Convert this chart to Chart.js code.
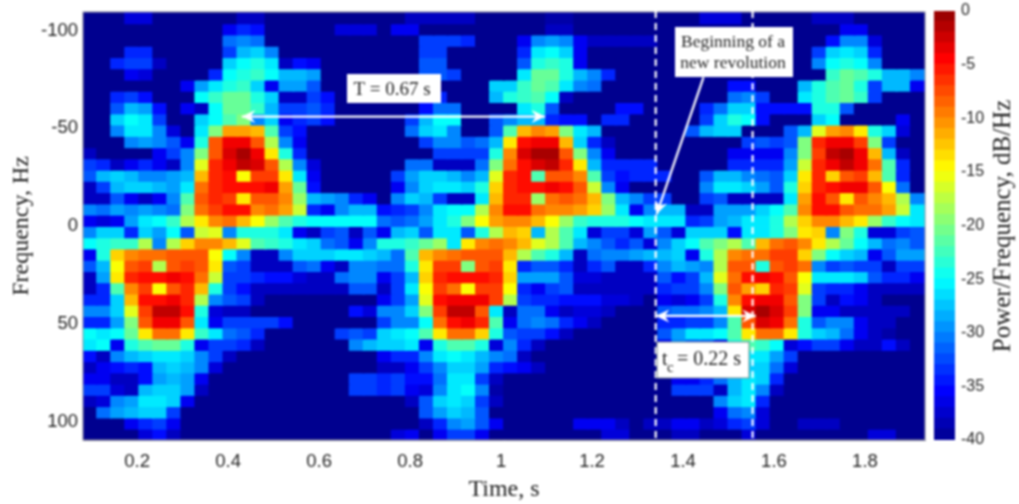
<!DOCTYPE html>
<html>
<head>
<meta charset="utf-8">
<style>
body { margin: 0; background: #fff; }
canvas { position: absolute; top: 0; filter: blur(0.8px); }
#specChart { left: 0; }
#barChart { left: 926px; }
</style>
<script src="https://cdn.jsdelivr.net/npm/chart.js@4/dist/chart.umd.min.js"></script>
</head>
<body>
<canvas id="specChart" width="930" height="504" style="width:930px;height:504px"></canvas>
<canvas id="barChart" width="93" height="504" style="width:93px;height:504px"></canvas>
<script>
// time bin centres, s
var timeBins = [0.0964,0.1272,0.1581,0.1889,0.2198,0.2506,0.2814,0.3123,0.3431,0.3740,0.4048,0.4356,0.4665,0.4973,0.5282,0.5590,0.5898,0.6207,0.6515,0.6824,0.7132,0.7440,0.7749,0.8057,0.8366,0.8674,0.8982,0.9291,0.9599,0.9908,1.0216,1.0524,1.0833,1.1141,1.1450,1.1758,1.2066,1.2375,1.2683,1.2992,1.3300,1.3608,1.3917,1.4225,1.4534,1.4842,1.5150,1.5459,1.5767,1.6076,1.6384,1.6692,1.7001,1.7309,1.7618,1.7926,1.8234,1.8543,1.8851,1.9160];
// frequency row edges, Hz
var freqEdges = [-109.5,-103.7,-98,-92.2,-86.4,-80.7,-74.9,-69.2,-63.4,-57.6,-51.9,-46.1,-40.3,-34.6,-28.8,-23.1,-17.3,-11.5,-5.8,0,5.8,11.5,17.3,23.1,28.8,34.6,40.3,46.1,51.9,57.6,63.4,69.2,74.9,80.7,86.4,92.2,98,103.7,109.5];
var timeTicks = [0.2,0.4,0.6,0.8,1,1.2,1.4,1.6,1.8];
var freqTicks = [-100,-50,0,50,100];
var powerTicks = [0,-5,-10,-15,-20,-25,-30,-35,-40];
var powerLevels = [-40,-39,-38,-37,-36,-35,-34,-33,-32,-31,-30,-29,-28,-27,-26,-25,-24,-23,-22,-21,-20,-19,-18,-17,-16,-15,-14,-13,-12,-11,-10,-9,-8,-7,-6,-5,-4,-3,-2,-1];

// power per row, dB below 0 (so 40 means -40 dB/Hz)
var r00 = [40,40,40,37,37,40,40,40,40,40,40,38,38,40,40,40,40,40,40,40,40, 40,40,38,38,38,38,38,40,40,40,40,40,39,39,40,40,40,40,40,40,40, 40,40,37,37,37,40,40,40,40,40,38,38,38,40,40,40,40,40];
var r01 = [40,40,40,40,40,40,40,40,40,40,36,34,35,40,40,40,40,40,37,37,37, 40,36,36,40,40,40,40,40,40,40,40,40,38,38,40,40,40,40,40,40,40, 40,40,40,40,40,40,40,40,40,40,40,40,36,36,40,40,40,40];
var r02 = [40,40,40,40,40,40,40,40,40,40,31,30,31,40,40,40,40,40,40,40,40, 40,40,40,33,33,33,34,40,40,40,36,30,29,30,36,38,38,38,38,38,40, 40,40,40,40,40,40,40,40,40,40,40,35,30,30,37,40,40,40];
var r03 = [40,40,40,34,34,40,40,40,40,40,33,28,27,30,40,40,40,40,40,40,40, 40,40,40,33,33,40,40,40,40,40,34,26,25,27,36,40,40,40,40,40,40, 40,40,40,40,40,40,40,40,40,40,33,27,26,27,34,40,40,40];
var r04 = [40,40,34,33,33,38,40,40,40,40,27,25,24,26,38,35,36,40,40,40,40, 40,40,40,32,32,40,40,40,40,40,32,24,23,24,36,40,40,40,40,40,40, 40,40,40,40,40,40,40,40,40,40,30,25,24,25,30,40,40,40];
var r05 = [40,40,40,36,37,40,40,40,40,34,25,24,23,25,28,28,29,40,40,40,40, 40,40,40,32,32,33,40,40,40,40,26,21,21,24,28,30,34,40,40,40,40, 40,40,40,40,40,40,40,40,40,40,40,23,21,22,24,28,28,30];
var r06 = [40,40,40,40,40,40,40,36,29,26,24,23,27,36,29,29,32,40,40,40,40, 40,40,40,40,40,40,40,40,27,27,23,21,22,26,30,31,40,40,40,40,40, 40,40,40,40,35,35,40,40,40,28,24,22,21,24,33,28,28,36];
var r07 = [40,40,34,33,35,40,40,40,25,23,21,21,24,27,38,38,33,35,40,40,40, 40,40,40,34,34,40,40,40,28,24,23,22,25,38,40,40,40,40,40,40,40, 40,40,40,40,31,30,33,40,40,26,24,22,21,23,33,40,40,40];
var r08 = [40,40,32,28,29,35,40,36,38,25,21,21,23,28,33,33,32,34,40,40,40, 40,40,40,35,31,31,40,40,40,40,26,24,32,40,40,40,40,35,35,40,40, 40,40,34,31,27,27,35,35,35,35,24,24,32,40,40,40,40,40];
var r09 = [40,40,27,25,26,33,40,40,27,25,22,20,30,27,36,34,33,35,40,40,40, 40,40,33,28,25,25,40,40,32,30,28,28,34,35,35,40,34,34,40,40,40, 40,40,33,27,24,25,35,40,40,40,27,25,40,40,40,40,36,40];
var r10 = [40,40,30,26,26,30,37,40,26,20,11,11,12,22,33,35,40,40,40,40,40, 40,40,31,27,26,30,40,40,32,22,12,10,11,20,26,28,40,40,40,40,40, 40,32,28,27,27,40,40,40,32,28,16,11,10,14,24,27,37,40];
var r11 = [40,40,40,30,29,30,32,36,24,8,4,4,8,18,30,36,40,40,40,40,40, 40,40,40,33,30,30,32,31,28,14,5,4,4,12,27,34,38,40,40,40,40, 40,40,40,40,40,33,32,33,32,20,6,4,4,7,20,33,40,40];
var r12 = [38,40,40,40,40,36,33,30,20,8,3,1,4,14,24,34,40,40,40,40,40, 40,40,40,40,33,33,33,33,24,10,3,1,1,8,20,30,36,40,40,40,40, 40,40,40,40,36,36,36,36,30,20,7,2,1,4,12,28,38,40];
var r13 = [33,34,38,36,34,36,38,30,16,6,4,2,3,8,18,30,37,40,40,40,40, 40,40,31,31,38,38,38,31,20,9,5,3,2,6,14,28,34,34,34,34,40, 40,40,40,40,34,34,34,34,29,17,6,4,2,4,9,22,34,40];
var r14 = [32,28,27,28,30,30,29,28,12,6,5,15,7,7,14,26,36,40,40,40,40, 40,33,29,27,27,28,30,28,16,6,5,22,8,8,10,22,33,35,34,34,34, 40,40,32,28,28,30,31,32,27,14,6,13,8,7,12,22,34,40];
var r15 = [38,33,28,27,27,28,29,26,9,6,5,5,5,4,11,21,35,40,40,40,40, 40,36,30,27,26,26,27,24,13,6,5,5,4,5,8,17,30,36,40,40,40, 40,40,30,26,26,27,29,32,24,13,6,5,4,4,8,15,31,40];
var r16 = [38,38,32,36,38,36,30,22,8,6,7,14,8,8,10,19,28,29,30,34,36, 40,30,27,28,33,38,38,26,12,6,6,19,9,8,9,12,20,28,30,33,33, 40,40,33,32,38,38,38,38,26,11,5,8,14,8,10,12,18,30];
var r17 = [30,31,29,30,29,30,31,20,9,7,5,5,10,9,11,17,34,36,30,28,28, 35,34,33,30,26,25,25,18,10,5,5,9,10,10,11,13,19,26,36,30,28, 28,38,38,29,29,29,27,25,22,10,5,5,8,9,9,11,17,26];
var r18 = [36,37,36,29,26,25,23,18,14,10,9,12,15,19,22,24,25,25,25,25,25, 31,32,31,29,26,24,20,15,11,10,10,12,15,19,23,24,24,24,25,26,26, 26,34,33,29,28,26,26,24,18,13,10,10,12,14,19,23,25,26];
var r19 = [30,27,27,34,27,29,25,32,17,16,30,24,24,24,26,36,38,33,32,38,32, 36,28,27,32,26,26,32,24,18,12,13,28,18,22,26,37,33,33,37,29,32, 37,27,27,27,35,26,26,24,20,14,13,30,20,24,37,37,33,32];
var r20 = [25,24,23,23,18,30,18,13,10,10,12,16,22,23,24,26,27,31,32,36,30, 24,24,23,21,19,26,14,10,9,10,12,16,18,22,28,30,32,34,32,37,30, 27,25,22,20,18,22,12,9,8,10,14,18,21,25,28,31,30,32];
var r21 = [36,24,13,10,9,9,8,8,8,15,25,30,38,38,30,27,27,27,26,26,27, 28,31,22,12,10,9,8,8,8,12,18,22,24,28,38,31,30,30,29,28,28, 27,36,24,18,10,9,9,7,7,13,20,25,27,28,36,32,29,29];
var r22 = [32,28,15,8,7,18,8,7,8,14,32,33,38,38,38,32,31,36,38,30,30, 31,31,24,14,7,7,20,8,7,14,34,32,32,34,38,34,32,38,38,34,30, 28,29,30,18,8,8,24,8,7,9,30,33,32,33,33,38,33,33];
var r23 = [38,29,14,6,5,5,4,5,9,17,33,33,34,35,35,37,38,38,31,30,30, 36,33,28,13,6,5,5,5,6,13,29,29,29,32,37,37,38,38,38,38,32, 35,33,28,16,9,5,4,5,8,15,26,26,26,27,32,34,34,36];
var r24 = [38,34,22,10,7,15,8,6,12,24,33,35,38,38,38,38,38,38,38,32,32, 38,33,26,15,7,9,15,7,7,15,34,36,33,32,38,38,38,38,38,38,34, 33,33,30,20,8,11,13,6,7,16,33,34,34,36,38,38,38,38];
var r25 = [34,34,27,12,5,5,4,6,18,30,32,33,38,40,40,40,40,40,40,40,40, 36,33,29,16,5,4,4,4,7,18,33,34,34,35,35,35,37,37,38,40,36, 37,36,33,24,10,5,4,4,8,20,33,38,35,36,38,40,40,40];
var r26 = [30,30,27,16,7,2,2,5,24,37,38,38,40,40,40,40,40,40,40,35,37, 30,30,27,20,7,2,2,8,26,38,31,31,36,38,37,37,38,40,40,40,32, 31,31,30,28,14,3,1,3,7,20,36,36,38,38,38,38,38,40];
var r27 = [34,34,29,20,8,4,4,8,26,36,33,33,33,33,35,40,40,40,40,40,40, 33,30,30,25,9,5,4,6,22,36,31,30,31,34,36,38,40,40,40,40,34, 34,33,33,30,22,8,3,4,9,24,32,30,30,36,38,38,40,40];
var r28 = [25,26,25,21,14,9,9,14,23,26,31,32,34,40,40,40,40,40,33,32,33, 27,26,25,22,14,9,9,13,24,32,33,33,35,38,40,40,40,40,40,40,32, 29,26,26,25,22,14,9,9,14,24,27,28,31,36,38,39,40,40];
var r29 = [26,25,36,24,22,21,21,24,36,33,33,34,38,40,40,40,40,40,40,30,28, 27,27,26,36,24,22,22,24,37,30,34,38,40,40,40,40,40,40,40,40,36, 30,32,32,36,24,22,23,25,37,35,33,33,36,38,38,35,38,40];
var r30 = [35,38,30,28,27,26,26,27,30,33,38,40,40,40,40,40,40,40,40,40,40, 36,34,34,30,26,25,26,28,30,31,38,40,40,40,40,40,40,40,40,40,40, 36,36,34,30,28,26,26,29,33,40,40,40,40,40,40,40,40,40];
var r31 = [38,36,35,34,35,28,27,28,30,37,40,40,40,40,40,40,40,40,40,40,40, 38,38,36,33,30,27,27,29,34,35,36,38,40,40,40,40,40,40,40,40,40, 40,36,34,31,28,27,27,31,37,40,40,40,40,40,40,40,40,40];
var r32 = [36,36,38,38,35,29,28,29,36,40,40,40,40,40,40,40,40,40,40,33,33, 34,33,35,35,31,26,26,33,38,40,40,40,40,40,40,40,40,40,40,40,40, 36,36,34,31,28,26,27,34,40,40,40,40,40,40,40,40,40,40];
var r33 = [33,33,37,38,28,27,27,29,38,40,40,40,40,40,40,40,40,40,40,33,33, 34,33,36,37,30,26,25,30,39,40,40,40,40,40,40,40,40,40,40,40,40, 33,33,33,38,28,26,30,38,40,40,40,40,40,40,40,40,40,40];
var r34 = [38,37,30,29,26,26,27,36,40,40,40,40,40,40,40,40,40,40,40,40,40, 40,40,38,32,27,26,27,33,38,40,40,40,40,40,40,40,40,40,40,40,40, 40,40,40,30,27,26,34,40,40,40,40,40,40,40,40,40,40,40];
var r35 = [40,31,29,28,27,27,33,40,40,40,40,40,40,40,40,40,40,40,40,40,40, 40,40,40,32,29,27,28,32,40,40,40,40,40,40,40,40,40,40,40,40,40, 40,40,40,36,31,30,37,40,40,40,40,40,40,40,40,40,40,40];
var r36 = [40,40,40,36,34,33,36,40,40,40,40,40,40,40,40,40,40,40,40,40,40, 40,40,40,38,34,30,29,32,36,40,40,40,40,40,36,36,36,38,40,38,38, 36,36,38,37,34,33,37,40,40,38,38,38,40,40,40,40,40,40];
var r37 = [40,40,40,40,37,35,38,40,40,40,40,40,40,40,40,40,40,40,40,40,40, 40,37,36,40,36,33,33,36,40,40,40,40,40,40,40,40,37,37,40,40,40, 38,38,40,40,40,37,40,40,40,40,40,40,40,40,37,37,40,40];
var powerRows = [r00,r01,r02,r03,r04,r05,r06,r07,r08,r09,r10,r11,r12,r13,r14,r15,r16,r17,r18,r19,r20,r21,r22,r23,r24,r25,r26,r27,r28,r29,r30,r31,r32,r33,r34,r35,r36,r37];

// same colours as matlab jet(64)
function jet(db) {
    var t = 1 / 64 + ((db + 40) / 40) * (62 / 64);
    var c = function (v) { return Math.round(255 * Math.max(0, Math.min(1, v))); };
    return "rgb(" + c(1.5 - Math.abs(4 * t - 3)) + "," + c(1.5 - Math.abs(4 * t - 2)) + "," + c(1.5 - Math.abs(4 * t - 1)) + ")";
}

var datasets = [];
for (let i = 0; i < powerRows.length; i++) {
    datasets.push({
        // 0.3 Hz of overlap so no seam shows between rows
        data: timeBins.map((t) => ({ x: t, y: [freqEdges[i], freqEdges[i + 1] + 0.3] })),
        backgroundColor: powerRows[i].map((v) => jet(-v)),
        borderWidth: 0,
        barThickness: 15,
        grouped: false,
    });
}

function arrowHead(ctx, x, y, ang, size) {
    ctx.beginPath();
    ctx.moveTo(x, y);
    ctx.lineTo(x - size * Math.cos(ang - 0.45), y - size * Math.sin(ang - 0.45));
    ctx.lineTo(x - size * 0.6 * Math.cos(ang), y - size * 0.6 * Math.sin(ang));
    ctx.lineTo(x - size * Math.cos(ang + 0.45), y - size * Math.sin(ang + 0.45));
    ctx.closePath();
    ctx.fill();
}

function arrow(ctx, x0, y0, x1, y1, both) {
    var ang = Math.atan2(y1 - y0, x1 - x0);
    ctx.beginPath();
    ctx.moveTo(x0, y0);
    ctx.lineTo(x1, y1);
    ctx.stroke();
    arrowHead(ctx, x1, y1, ang, 15);
    if (both) arrowHead(ctx, x0, y0, ang + Math.PI, 15);
}

var notes = {
    id: "notes",
    afterDraw(chart) {
        var ctx = chart.ctx;
        var sx = chart.scales.x, sy = chart.scales.y;
        var area = chart.chartArea;
        var px = (t) => sx.getPixelForValue(t);
        var py = (f) => sy.getPixelForValue(f);
        ctx.save();
        ctx.strokeStyle = "#8a8a9a";
        ctx.lineWidth = 1;
        ctx.strokeRect(area.left, area.top, area.right - area.left, area.bottom - area.top);
        ctx.strokeStyle = "#fff";
        ctx.fillStyle = "#fff";
        ctx.lineWidth = 2.2;
        // dashed markers
        ctx.setLineDash([7, 5]);
        [1.34, 1.553].forEach((t) => {
            ctx.beginPath();
            ctx.moveTo(px(t), 11);
            ctx.lineTo(px(t), area.bottom);
            ctx.stroke();
        });
        ctx.setLineDash([]);
        // arrows
        arrow(ctx, px(0.43), py(-56), px(1.097), py(-56), true);
        arrow(ctx, px(1.34), py(46), px(1.56), py(46), true);
        arrow(ctx, px(1.445), py(-76), px(1.342), py(-6), false);
        // boxes
        ctx.fillStyle = "#fff";
        ctx.fillRect(347, 74, 94, 29);
        ctx.fillRect(675, 27, 118, 50);
        ctx.fillRect(657, 342, 92, 36);
        ctx.strokeStyle = "#7a8a8a";
        ctx.lineWidth = 1;
        ctx.strokeRect(657, 342, 92, 36);
        ctx.fillStyle = "#222";
        ctx.textBaseline = "alphabetic";
        ctx.textAlign = "center";
        ctx.font = "19px 'Liberation Serif'";
        ctx.fillText("T = 0.67 s", 392, 95);
        ctx.font = "17.5px 'Liberation Serif'";
        ctx.fillText("Beginning of a", 733, 47);
        ctx.fillText("new revolution", 733, 68);
        ctx.textAlign = "left";
        ctx.font = "20px 'Liberation Serif'";
        ctx.fillText("t", 662, 365);
        ctx.fillText("= 0.22 s", 677, 365);
        ctx.font = "15px 'Liberation Serif'";
        ctx.fillText("c", 667, 372);
        ctx.restore();
    },
};

new Chart(document.getElementById("specChart"), {
    type: "bar",
    data: { datasets: datasets },
    plugins: [notes],
    options: {
        responsive: false,
        animation: false,
        layout: { autoPadding: false, padding: { top: 12, right: 5, left: 0, bottom: 0 } },
        plugins: { legend: { display: false }, tooltip: { enabled: false } },
        scales: {
            x: {
                type: "linear",
                offset: false,
                min: 0.081,
                max: 1.932,
                afterBuildTicks(scale) { scale.ticks = timeTicks.map((v) => ({ value: v })); },
                afterFit(scale) { scale.height = 64; scale.paddingLeft = 0; scale.paddingRight = 0; },
                grid: { drawOnChartArea: false, drawTicks: false },
                border: { color: "#8a8a9a" },
                ticks: {
                    autoSkip: false, maxRotation: 0, padding: 11, color: "#222",
                    font: { family: "Liberation Sans", size: 18.5 },
                    callback: (v) => String(v),
                },
                title: {
                    display: true, text: "Time, s", color: "#222", padding: { top: 1, bottom: 0 },
                    font: { family: "Liberation Serif", size: 24 },
                },
            },
            y: {
                type: "linear",
                reverse: true,
                min: -109.5,
                max: 109.5,
                afterBuildTicks(scale) { scale.ticks = freqTicks.map((v) => ({ value: v })); },
                afterFit(scale) { scale.width = 83; scale.paddingTop = 0; scale.paddingBottom = 0; },
                grid: { drawOnChartArea: false, drawTicks: false },
                border: { color: "#8a8a9a" },
                ticks: {
                    autoSkip: false, padding: 5, color: "#222",
                    font: { family: "Liberation Sans", size: 18.5 },
                    callback: (v) => String(v),
                },
                title: {
                    display: true, text: "Frequency, Hz", color: "#222", padding: { top: 7, bottom: 0 },
                    font: { family: "Liberation Serif", size: 24 },
                },
            },
        },
    },
});

var barTitle = {
    id: "barTitle",
    afterDraw(chart) {
        var ctx = chart.ctx;
        ctx.save();
        ctx.translate(77, 226);
        ctx.rotate(-Math.PI / 2);
        ctx.textAlign = "center";
        ctx.textBaseline = "middle";
        ctx.fillStyle = "#222";
        ctx.font = "25px 'Liberation Serif'";
        ctx.fillText("Power/Frequency, dB/Hz", 0, 0);
        ctx.restore();
    },
};

new Chart(document.getElementById("barChart"), {
    type: "bar",
    data: {
        labels: [""],
        datasets: powerLevels.map((lv) => ({
            data: [[lv, lv + 1.05]],
            backgroundColor: jet(lv + 0.5),
            borderWidth: 0,
            grouped: false,
            barPercentage: 1,
            categoryPercentage: 1,
        })),
    },
    plugins: [barTitle],
    options: {
        responsive: false,
        animation: false,
        layout: { autoPadding: false, padding: { top: 11, left: 8, right: 0, bottom: 64 } },
        plugins: { legend: { display: false }, tooltip: { enabled: false } },
        scales: {
            x: { display: false },
            y: {
                position: "right",
                min: -40,
                max: 0,
                afterBuildTicks(scale) { scale.ticks = powerTicks.map((v) => ({ value: v })); },
                afterFit(scale) { scale.width = 64; scale.paddingTop = 0; scale.paddingBottom = 0; },
                grid: { drawOnChartArea: false, drawTicks: false },
                border: { display: false },
                ticks: {
                    autoSkip: false, padding: 6, color: "#222",
                    font: { family: "Liberation Sans", size: 16 },
                    callback: (v) => String(v),
                },
            },
        },
    },
});
</script>
</body>
</html>
